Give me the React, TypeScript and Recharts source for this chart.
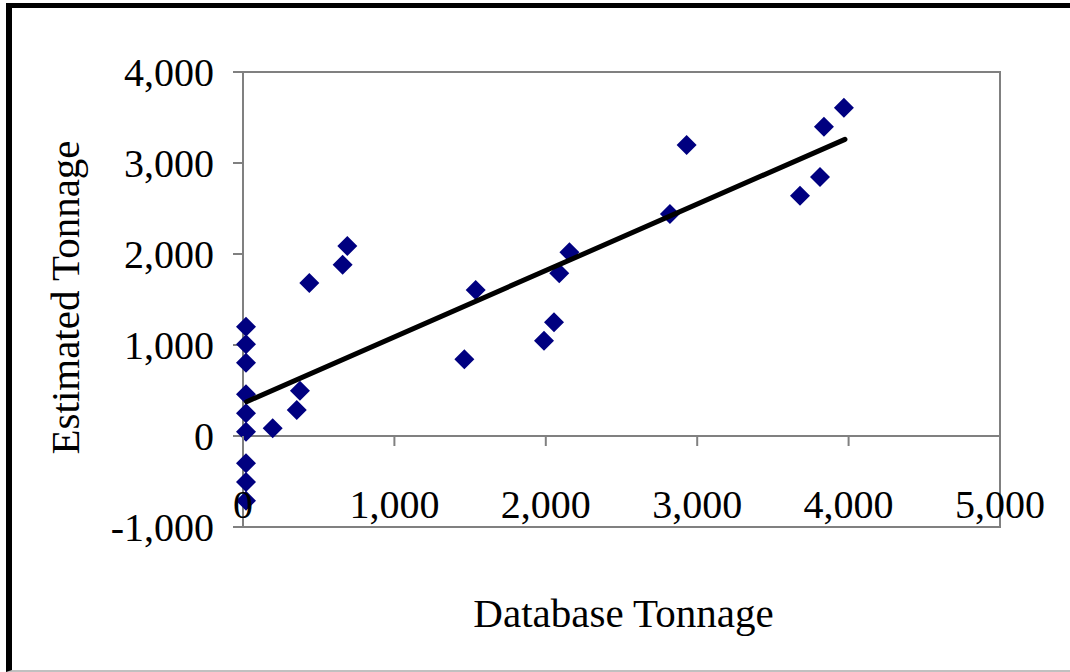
import React from 'react'
import {
  ScatterChart,
  Scatter,
  XAxis,
  YAxis,
  ReferenceLine,
  ReferenceArea,
  Label,
} from 'recharts'

// Database tonnage (x) vs estimated tonnage (y)
const dbTonnage = [
  20, 20, 20, 20, 20, 20, 20, 20, 20,
  196, 355, 376, 438, 658, 689,
  1462, 1537, 1988, 2054, 2089, 2156,
  2820, 2930, 3679, 3811, 3837, 3969,
]
const estTonnage = [
  1201, 1008, 805, 458, 249, 47, -300, -505, -711,
  85, 286, 498, 1681, 1883, 2088,
  843, 1604, 1047, 1249, 1788, 2019,
  2440, 3198, 2641, 2846, 3399, 3608,
]

// linear trend line end points
const trendX = [24, 3976]
const trendY = [377, 3260]

const xTicks = [0, 1000, 2000, 3000, 4000, 5000]
const yTicks = [-1000, 0, 1000, 2000, 3000, 4000]

const points = dbTonnage.map((x, i) => ({ x, y: estTonnage[i] }))
const trend = trendX.map((x, i) => ({ x, y: trendY[i] }))

const FONT = '"Liberation Serif", "Times New Roman", serif'
const AXIS_GREY = '#808080'

const fmt = (v: number) => v.toLocaleString('en-US')

const Diamond = (props: any) => {
  const { cx, cy } = props
  const r = 10
  return (
    <path
      d={`M${cx},${cy - r} L${cx + r},${cy} L${cx},${cy + r} L${cx - r},${cy} Z`}
      fill="#000080"
    />
  )
}

// x tick labels sit above the plot bottom, tick marks hang off the y=0 line
const XTick = (props: any) => {
  const { x, y, payload } = props
  return (
    <g>
      <line x1={x} x2={x} y1={y - 91} y2={y - 81} stroke={AXIS_GREY} strokeWidth={2} />
      <text x={x} y={y - 9} textAnchor="middle" fontFamily={FONT} fontSize={40} fill="#000">
        {fmt(payload.value)}
      </text>
    </g>
  )
}

export default function App() {
  return (
    <div style={{ position: 'absolute', left: 0, top: 0, width: 1070, height: 672, background: '#fff', overflow: 'hidden' }}>
      <div
        style={{
          position: 'absolute',
          left: 6,
          top: 3,
          width: 1100,
          height: 669,
          boxSizing: 'border-box',
          borderLeft: '6px solid #000',
          borderTop: '5px solid #000',
          borderBottom: '2px solid #c0c0c0',
        }}
      />
      <div style={{ position: 'absolute', left: 0, top: 0 }}>
        <ScatterChart width={1070} height={672} margin={{ top: 72, right: 70, bottom: 115, left: 43 }}>
          <XAxis
            type="number"
            dataKey="x"
            domain={[0, 5000]}
            ticks={xTicks}
            axisLine={false}
            tickLine={false}
            tickSize={0}
            tickMargin={0}
            height={30}
            interval={0}
            tick={<XTick />}
          >
            <Label
              content={({ viewBox }: any) => (
                <text
                  x={viewBox.x + viewBox.width / 2 + 2}
                  y={viewBox.y + 100}
                  textAnchor="middle"
                  fontFamily={FONT}
                  fontSize={41}
                  fill="#000"
                >
                  Database Tonnage
                </text>
              )}
            />
          </XAxis>
          <YAxis
            type="number"
            dataKey="y"
            domain={[-1000, 4000]}
            ticks={yTicks}
            width={200}
            interval={0}
            axisLine={{ stroke: AXIS_GREY, strokeWidth: 2 }}
            tickLine={{ stroke: AXIS_GREY, strokeWidth: 2 }}
            tickSize={10}
            tickMargin={19}
            tickFormatter={fmt}
            tick={{ fill: '#000', fontFamily: FONT, fontSize: 40 }}
          >
            <Label
              content={({ viewBox }: any) => {
                const lx = viewBox.x + 36
                const ly = viewBox.y + viewBox.height / 2 - 2
                return (
                  <text
                    x={lx}
                    y={ly}
                    transform={`rotate(-90 ${lx} ${ly})`}
                    textAnchor="middle"
                    fontFamily={FONT}
                    fontSize={41}
                    fill="#000"
                  >
                    Estimated Tonnage
                  </text>
                )
              }}
            />
          </YAxis>
          <ReferenceArea
            x1={0}
            x2={5000}
            y1={-1000}
            y2={4000}
            fill="none"
            stroke={AXIS_GREY}
            strokeWidth={2}
          />
          <ReferenceLine y={0} stroke={AXIS_GREY} strokeWidth={2} />
          <Scatter data={points} shape={<Diamond />} isAnimationActive={false} />
          <Scatter
            data={trend}
            line={{ stroke: '#000', strokeWidth: 5, strokeLinecap: 'round' }}
            lineType="joint"
            shape={() => null}
            isAnimationActive={false}
          />
        </ScatterChart>
      </div>
    </div>
  )
}
